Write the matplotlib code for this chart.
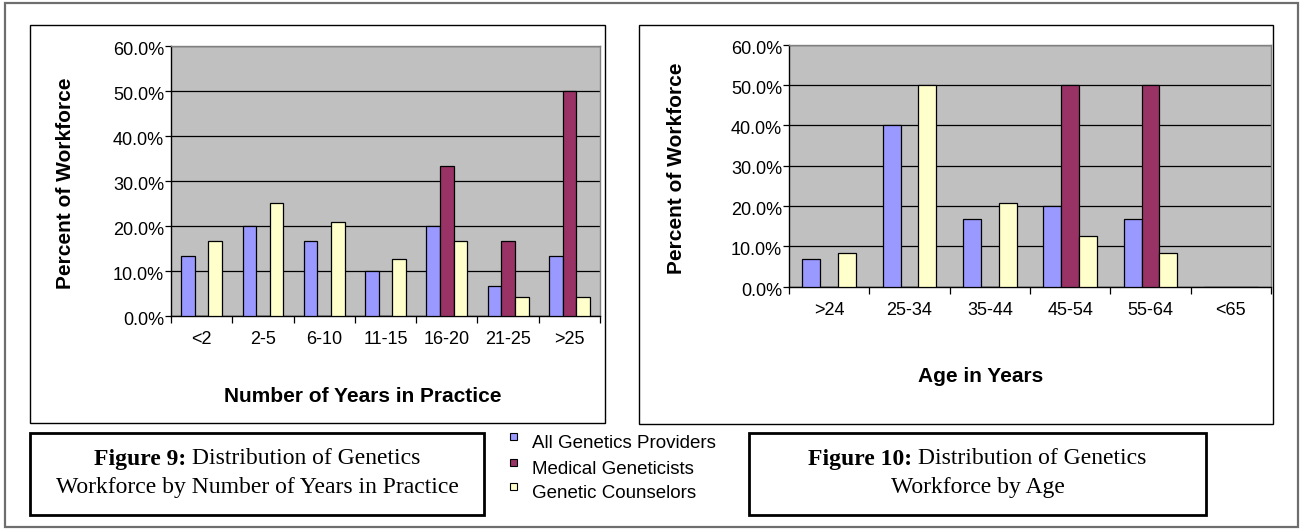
import numpy as np
import matplotlib
matplotlib.use("Agg")
import matplotlib.pyplot as plt
from matplotlib.patches import Rectangle
from matplotlib.ticker import FixedLocator, FuncFormatter
from matplotlib.transforms import ScaledTranslation

# ---- data (percent of workforce) ----
series_names = ["All Genetics Providers", "Medical Geneticists", "Genetic Counselors"]
series_colors = ["#9999FF", "#993366", "#FFFFCC"]

years_categories = ["<2", "2-5", "6-10", "11-15", "16-20", "21-25", ">25"]
years_all = [13.3, 20.0, 16.7, 10.0, 20.0, 6.7, 13.3]
years_medical = [0.0, 0.0, 0.0, 0.0, 33.3, 16.7, 50.0]
years_counselors = [16.7, 25.0, 20.8, 12.5, 16.7, 4.2, 4.2]

age_categories = [">24", "25-34", "35-44", "45-54", "55-64", "<65"]
age_all = [6.7, 40.0, 16.7, 20.0, 16.7, 0.0]
age_medical = [0.0, 0.0, 0.0, 50.0, 50.0, 0.0]
age_counselors = [8.3, 50.0, 20.8, 12.5, 8.3, 0.0]

y_ticks = [0, 10, 20, 30, 40, 50, 60]

W, H = 1301, 529
SANS = "Liberation Sans"
SERIF = "Liberation Serif"
plt.rcParams["font.family"] = SANS

fig = plt.figure(figsize=(W / 100, H / 100), dpi=100)
fig.patch.set_facecolor("white")


def fx(px):
    return px / W


def fy(py):
    return 1 - py / H


def frame(x0, y0, x1, y1, lw=1.0, color="black"):
    fig.add_artist(Rectangle((fx(x0), fy(y1)), fx(x1) - fx(x0), fy(y0) - fy(y1),
                             transform=fig.transFigure, fill=False,
                             edgecolor=color, linewidth=lw, zorder=0))


# outer page border, chart boxes and caption boxes
frame(5, 3, 1298, 527, lw=1.6, color="#6e6e6e")
frame(30, 25, 605, 423, lw=1.0)
frame(639, 25, 1273, 424, lw=1.0)
frame(30, 433, 484, 515, lw=2.0)
frame(749, 433, 1206, 515, lw=2.0)


def bar_chart(rect_px, categories, values_list, xlabel, xlabel_pos, ylabel_pos):
    x0, y0, x1, y1 = rect_px
    ax = fig.add_axes([fx(x0), fy(y1), fx(x1) - fx(x0), fy(y0) - fy(y1)])
    ax.set_facecolor("#C0C0C0")
    n = len(categories)
    w = 1 / 4.5
    centers = np.arange(n) + 0.5
    for i, (vals, col) in enumerate(zip(values_list, series_colors)):
        ax.bar(centers + (i - 1) * w, vals, width=w, color=col,
               edgecolor="black", linewidth=0.9, zorder=3)
    ax.set_xlim(0, n)
    ax.set_ylim(0, 60)
    ax.yaxis.set_major_locator(FixedLocator(y_ticks))
    ax.yaxis.set_major_formatter(FuncFormatter(lambda v, p: f"{v:.1f}%"))
    ax.grid(axis="y", color="black", linewidth=0.9, zorder=1)
    ax.set_axisbelow(True)
    ax.set_xticks(centers)
    ax.set_xticklabels(categories)
    ax.set_xticks(np.arange(n + 1), minor=True)
    ax.tick_params(axis="x", which="major", length=0, pad=11, labelsize=13)
    ax.tick_params(axis="x", which="minor", length=5, width=0.9, direction="out")
    ax.tick_params(axis="y", length=4, width=0.9, pad=1, labelsize=13)
    # value labels sit slightly below their gridline
    shift = ScaledTranslation(0, -2.5 / 100, fig.dpi_scale_trans)
    for lbl in ax.get_yticklabels():
        lbl.set_transform(lbl.get_transform() + shift)
    ax.spines["left"].set_color("black")
    ax.spines["bottom"].set_color("black")
    ax.spines["top"].set_color("#808080")
    ax.spines["right"].set_color("#808080")
    for s in ax.spines.values():
        s.set_linewidth(1.0)
    fig.text(fx(xlabel_pos[0]), fy(xlabel_pos[1]), xlabel, ha="center",
             va="center", fontsize=15, fontweight="bold", family=SANS)
    fig.text(fx(ylabel_pos[0]), fy(ylabel_pos[1]), "Percent of Workforce",
             rotation=90, ha="center", va="center", fontsize=15,
             fontweight="bold", family=SANS)
    return ax


bar_chart((171, 45.7, 600, 315.7), years_categories,
          [years_all, years_medical, years_counselors],
          "Number of Years in Practice", (363, 397), (65.5, 183))
bar_chart((789, 44.5, 1271, 286.5), age_categories,
          [age_all, age_medical, age_counselors],
          "Age in Years", (981, 377), (677, 168))

# shared legend
leg_rows = [436, 462, 486]
for name, col, ry in zip(series_names, series_colors, leg_rows):
    fig.add_artist(Rectangle((fx(510), fy(ry + 3.5)), fx(7), 7 / H,
                             transform=fig.transFigure, facecolor=col,
                             edgecolor="black", linewidth=0.8))
    fig.text(fx(532), fy(ry + 8), name, ha="left", va="center",
             fontsize=13.5, family=SANS)

# figure captions with bold lead-in
renderer = fig.canvas.get_renderer()


def caption(cx, cy, bold, rest, second):
    t1 = fig.text(0, fy(cy), bold, ha="left", va="center", fontsize=17,
                  fontweight="bold", family=SERIF)
    t2 = fig.text(0, fy(cy), rest, ha="left", va="center", fontsize=17,
                  family=SERIF)
    w1 = t1.get_window_extent(renderer).width
    w2 = t2.get_window_extent(renderer).width
    gap = 5.5
    left = cx - (w1 + gap + w2) / 2
    t1.set_x(fx(left))
    t2.set_x(fx(left + w1 + gap))
    fig.text(fx(cx), fy(cy + 28), second, ha="center", va="center",
             fontsize=17, family=SERIF)


caption(257, 459, "Figure 9:", "Distribution of Genetics",
        "Workforce by Number of Years in Practice")
caption(977.5, 459, "Figure 10:", "Distribution of Genetics",
        "Workforce by Age")

fig.savefig("out.png", dpi=100)
